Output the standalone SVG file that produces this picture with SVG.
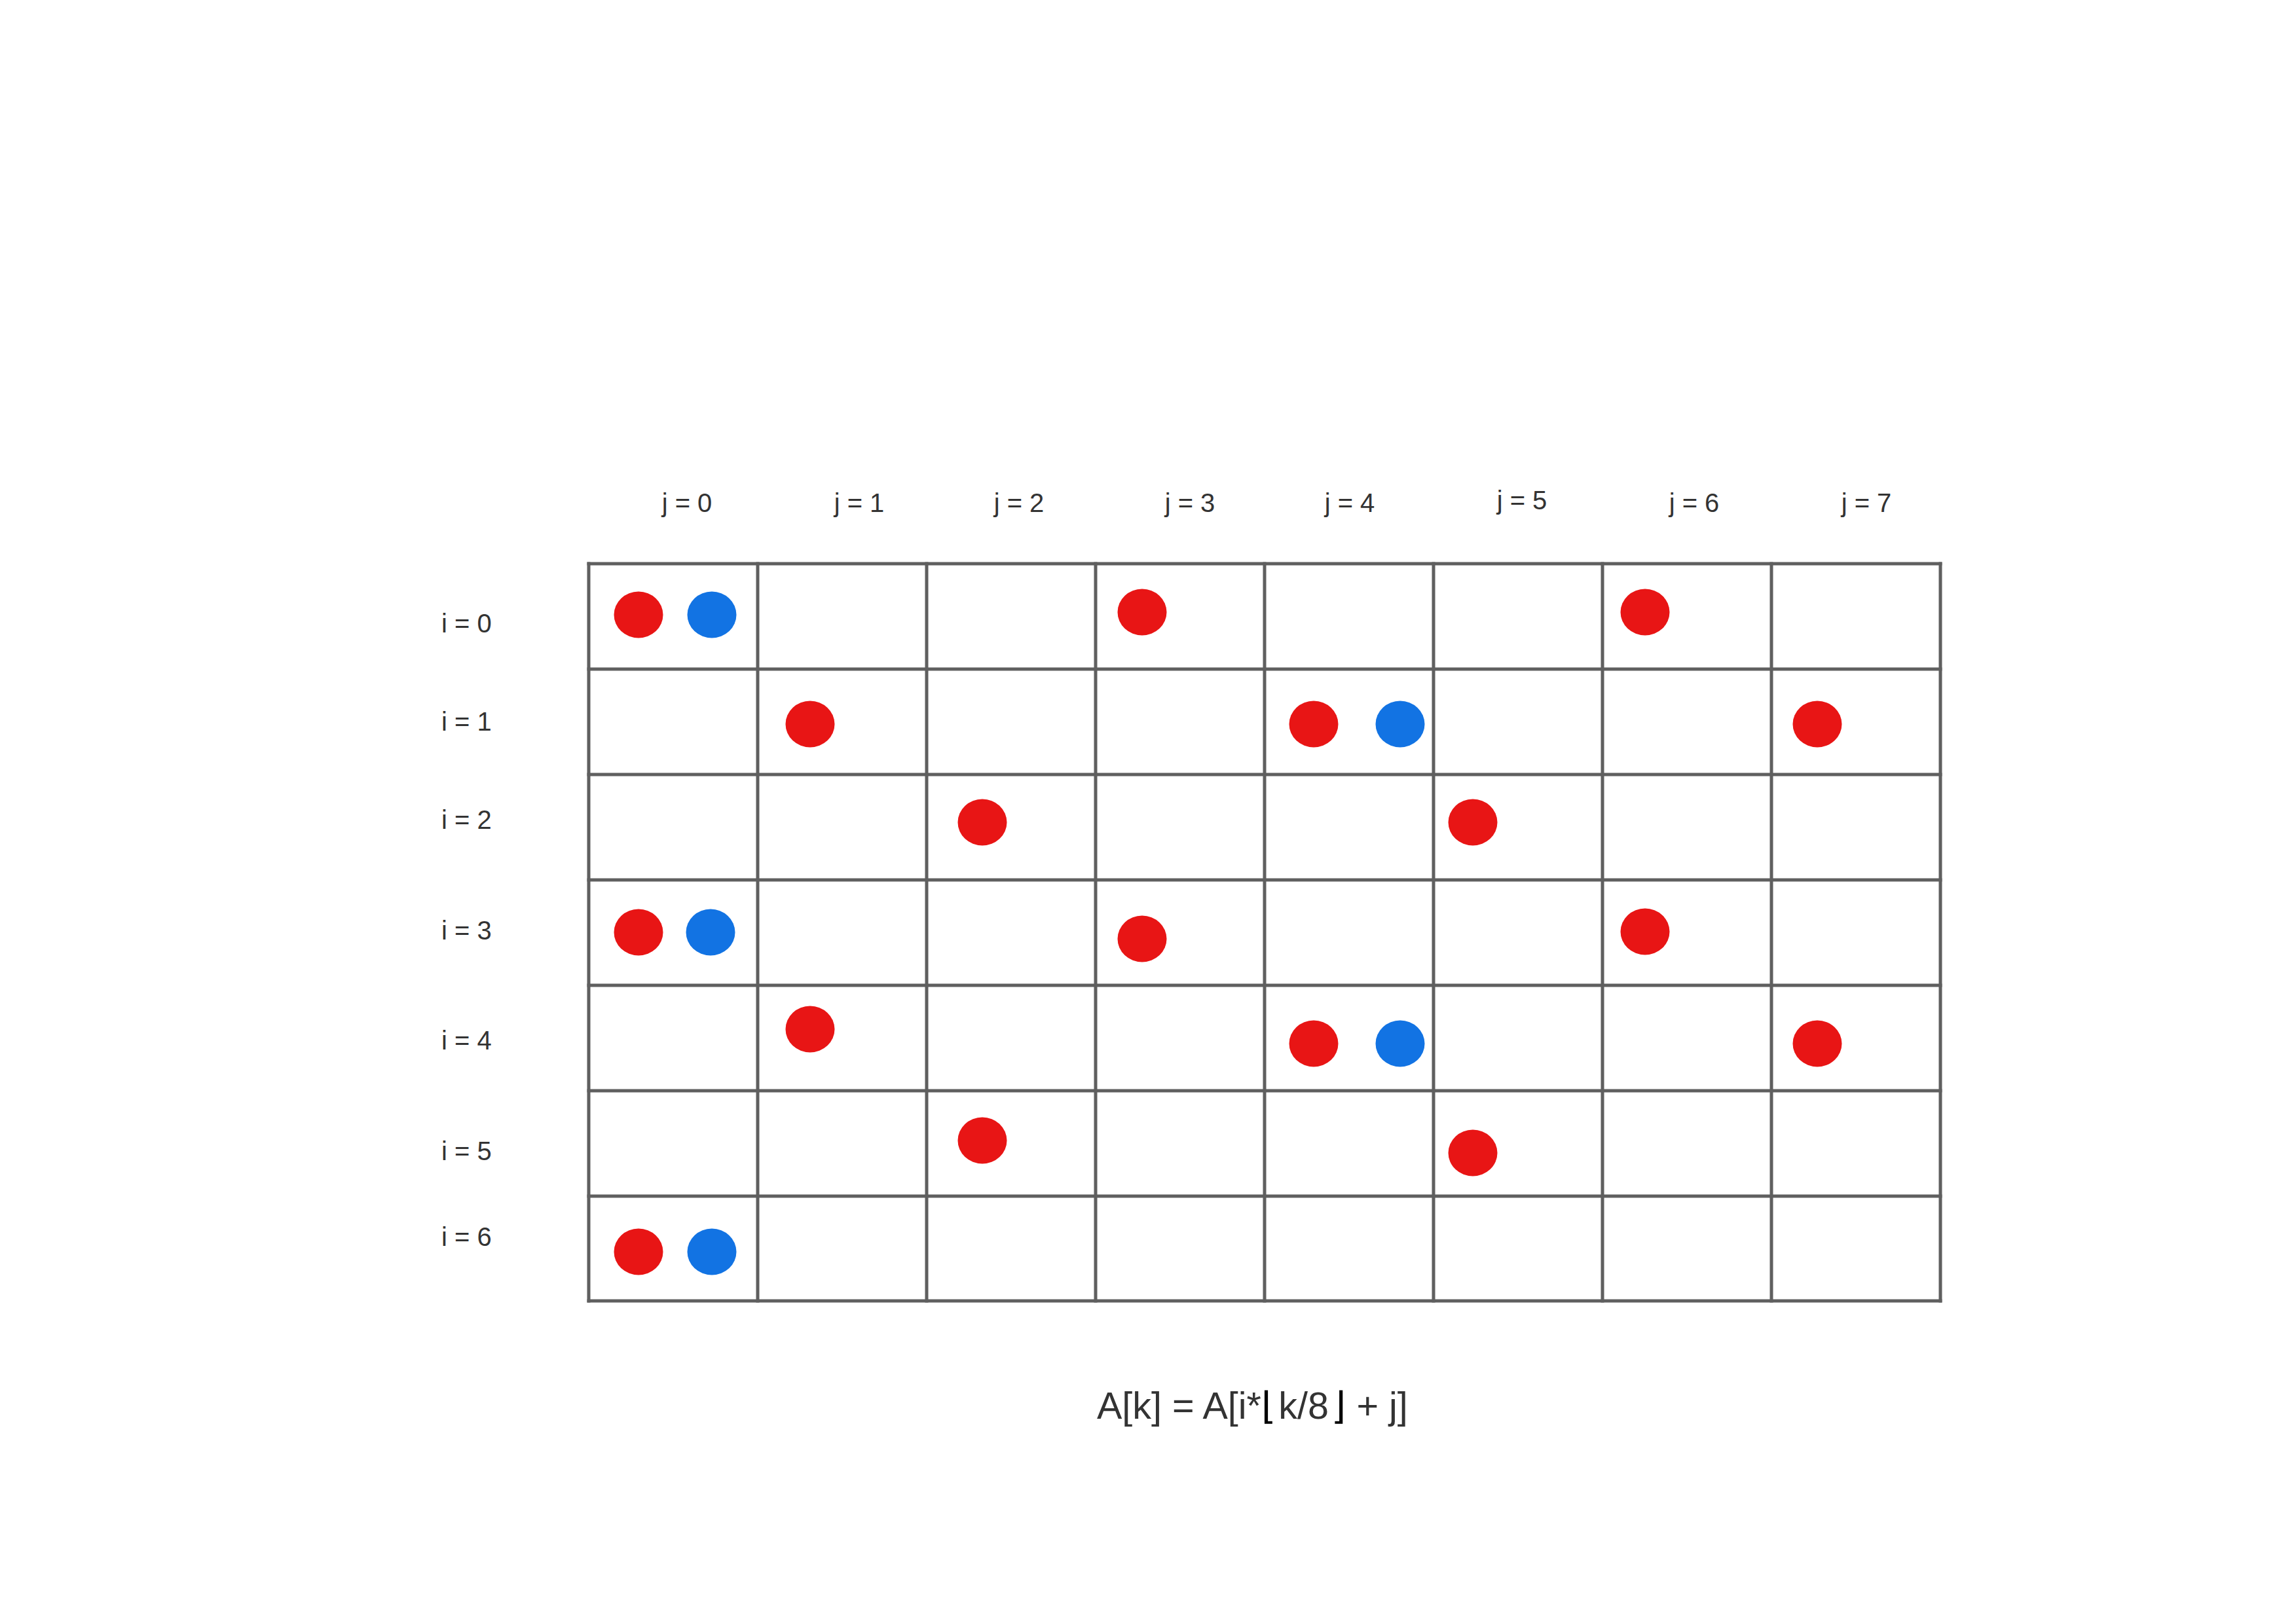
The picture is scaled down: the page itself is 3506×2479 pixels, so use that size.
<svg xmlns="http://www.w3.org/2000/svg" width="3506" height="2479" viewBox="0 0 3506 2479">
<style>
.grid line{stroke:#5f5f5f;stroke-width:5;stroke-linecap:square}
.lbl{font-family:"Liberation Sans",Arial,sans-serif;font-size:40px;fill:#333333}
.jl{text-anchor:middle}
.r{fill:#e81515}
.b{fill:#1273e3}
.f{font-family:"Liberation Sans",Arial,sans-serif;font-size:57.5px;fill:#333333}
</style>
<rect width="3506" height="2479" fill="#ffffff"/>
<g id="grid" class="grid">
<line x1="899" y1="861" x2="2963" y2="861"/>
<line x1="899" y1="1022" x2="2963" y2="1022"/>
<line x1="899" y1="1183" x2="2963" y2="1183"/>
<line x1="899" y1="1344" x2="2963" y2="1344"/>
<line x1="899" y1="1505" x2="2963" y2="1505"/>
<line x1="899" y1="1666" x2="2963" y2="1666"/>
<line x1="899" y1="1827" x2="2963" y2="1827"/>
<line x1="899" y1="1987" x2="2963" y2="1987"/>
<line x1="899" y1="861" x2="899" y2="1987"/>
<line x1="1157" y1="861" x2="1157" y2="1987"/>
<line x1="1415" y1="861" x2="1415" y2="1987"/>
<line x1="1673" y1="861" x2="1673" y2="1987"/>
<line x1="1931" y1="861" x2="1931" y2="1987"/>
<line x1="2189" y1="861" x2="2189" y2="1987"/>
<line x1="2447" y1="861" x2="2447" y2="1987"/>
<line x1="2705" y1="861" x2="2705" y2="1987"/>
<line x1="2963" y1="861" x2="2963" y2="1987"/>
</g>
<g id="col-labels" class="lbl jl">
<text x="1049" y="782">j = 0</text>
<text x="1312" y="782">j = 1</text>
<text x="1556" y="782">j = 2</text>
<text x="1817" y="782">j = 3</text>
<text x="2061" y="782">j = 4</text>
<text x="2324" y="778">j = 5</text>
<text x="2587" y="782">j = 6</text>
<text x="2850" y="782">j = 7</text>
</g>
<g id="row-labels" class="lbl">
<text x="674" y="966">i = 0</text>
<text x="674" y="1116">i = 1</text>
<text x="674" y="1266">i = 2</text>
<text x="674" y="1435">i = 3</text>
<text x="674" y="1603">i = 4</text>
<text x="674" y="1772">i = 5</text>
<text x="674" y="1903">i = 6</text>
</g>
<g id="dots">
<g id="row0">
<ellipse class="r" cx="975" cy="939" rx="37.5" ry="35.5"/>
<ellipse class="b" cx="1087" cy="939" rx="37.5" ry="35.5"/>
<ellipse class="r" cx="1744" cy="935" rx="37.5" ry="35.5"/>
<ellipse class="r" cx="2512" cy="935" rx="37.5" ry="35.5"/>
</g>
<g id="row1">
<ellipse class="r" cx="1237" cy="1106" rx="37.5" ry="35.5"/>
<ellipse class="r" cx="2006" cy="1106" rx="37.5" ry="35.5"/>
<ellipse class="b" cx="2138" cy="1106" rx="37.5" ry="35.5"/>
<ellipse class="r" cx="2775" cy="1106" rx="37.5" ry="35.5"/>
</g>
<g id="row2">
<ellipse class="r" cx="1500" cy="1256" rx="37.5" ry="35.5"/>
<ellipse class="r" cx="2249" cy="1256" rx="37.5" ry="35.5"/>
</g>
<g id="row3">
<ellipse class="r" cx="975" cy="1424" rx="37.5" ry="35.5"/>
<ellipse class="b" cx="1085" cy="1424" rx="37.5" ry="35.5"/>
<ellipse class="r" cx="1744" cy="1434" rx="37.5" ry="35.5"/>
<ellipse class="r" cx="2512" cy="1423" rx="37.5" ry="35.5"/>
</g>
<g id="row4">
<ellipse class="r" cx="1237" cy="1572" rx="37.5" ry="35.5"/>
<ellipse class="r" cx="2006" cy="1594" rx="37.5" ry="35.5"/>
<ellipse class="b" cx="2138" cy="1594" rx="37.5" ry="35.5"/>
<ellipse class="r" cx="2775" cy="1594" rx="37.5" ry="35.5"/>
</g>
<g id="row5">
<ellipse class="r" cx="1500" cy="1742" rx="37.5" ry="35.5"/>
<ellipse class="r" cx="2249" cy="1761" rx="37.5" ry="35.5"/>
</g>
<g id="row6">
<ellipse class="r" cx="975" cy="1912" rx="37.5" ry="35.5"/>
<ellipse class="b" cx="1087" cy="1912" rx="37.5" ry="35.5"/>
</g>
</g>
<g id="formula">
<text class="f" x="1675" y="2167">A[k] = A[i*<tspan font-family="DejaVu Sans, sans-serif" fill="#000000">⌊</tspan><tspan dx="4">k/8</tspan><tspan dx="4" font-family="DejaVu Sans, sans-serif" fill="#000000">⌋</tspan> + j]</text>
</g>
</svg>
